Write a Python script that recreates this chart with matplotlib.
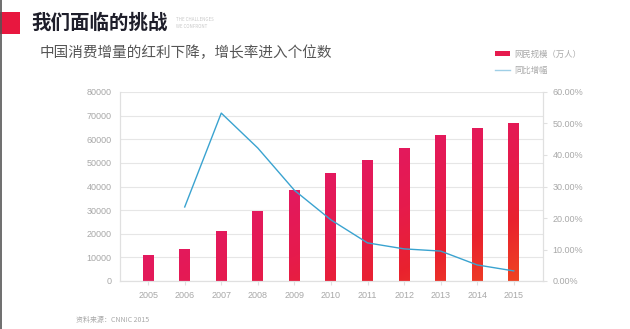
import matplotlib
matplotlib.use("Agg")
import matplotlib.pyplot as plt
import numpy as np
from matplotlib.colors import LinearSegmentedColormap
from matplotlib.patches import Rectangle

plt.rcParams['font.family'] = ['Noto Sans CJK SC', 'DejaVu Sans']

years = ['2005', '2006', '2007', '2008', '2009', '2010', '2011', '2012', '2013', '2014', '2015']
users = [11100, 13700, 21000, 29800, 38400, 45700, 51300, 56400, 61800, 64900, 66800]
growth_years = ['2006', '2007', '2008', '2009', '2010', '2011', '2012', '2013', '2014', '2015']
growth = [23.5, 53.3, 42.2, 28.8, 19.4, 12.1, 10.2, 9.5, 5.1, 3.2]
left_ticks = [0, 10000, 20000, 30000, 40000, 50000, 60000, 70000, 80000]
right_ticks = [0, 10, 20, 30, 40, 50, 60]

W, H = 630, 329
fig = plt.figure(figsize=(W / 100, H / 100), dpi=100)

ax = fig.add_axes([120 / W, 1 - 281 / H, (543 - 120) / W, (281 - 92) / H])
ax2 = ax.twinx()

x = np.arange(len(years))
x0, x1 = -0.77, len(years) - 1 + 0.8
ax.set_xlim(x0, x1)
ax.set_ylim(0, 80000)
ax2.set_ylim(0, 60)

cmap = LinearSegmentedColormap.from_list('g', ['#E3195E', '#E61B4C', '#E9222E', '#EF4522'])
gx_, gy_ = np.meshgrid(np.linspace(0, 1, 300), np.linspace(0, 1, 300))
grad = np.clip(gx_ - gy_ + 0.05, 0, 1)
bw = 0.3
for xi, v in zip(x, users):
    rect = Rectangle((xi - bw / 2, 0), bw, v, facecolor='none', edgecolor='none')
    ax.add_patch(rect)
    im = ax.imshow(grad, cmap=cmap, vmin=0, vmax=1, aspect='auto', origin='lower',
                   extent=[x0, x1, 0, 80000], zorder=2, interpolation='bilinear')
    im.set_clip_path(rect)
ax.set_xlim(x0, x1)
ax.set_ylim(0, 80000)

gx = [years.index(y) for y in growth_years]
ax2.plot(gx, growth, color='#3AA3D0', lw=1.0, zorder=3)

ax.set_yticks(left_ticks)
ax.set_yticklabels([str(t) for t in left_ticks])
ax2.set_yticks(right_ticks)
ax2.set_yticklabels([f'{t:.2f}%' for t in right_ticks])
ax.set_xticks(x)
ax.set_xticklabels(years)

ax.grid(axis='y', color='#E6E6E6', lw=0.8)
ax.set_axisbelow(True)
for a in (ax, ax2):
    for s in a.spines.values():
        s.set_color('#E0E0E0')
        s.set_linewidth(0.8)
    a.spines['top'].set_visible(False)
ax.tick_params(axis='both', colors='#E0E0E0', labelcolor='#A8A8A8', labelsize=6.5, length=3, width=0.8)
ax.tick_params(axis='y', length=0, pad=6)
ax2.tick_params(axis='y', colors='#E0E0E0', labelcolor='#A8A8A8', labelsize=6.5, length=3, width=0.8, pad=4)
ax.tick_params(axis='x', pad=4)
for lab in ax.get_xticklabels() + ax.get_yticklabels() + ax2.get_yticklabels():
    lab.set_family(['Liberation Sans', 'DejaVu Sans'])

# Header
fig.patches.append(Rectangle((0, 1 - 34 / H), 20 / W, 22 / H, transform=fig.transFigure,
                             facecolor='#E8173F', edgecolor='none'))
fig.add_artist(plt.Line2D([0.5 / W, 0.5 / W], [0, 1], transform=fig.transFigure, color='#555555', lw=1.2))
fig.text(31 / W, 1 - 23 / H, '我们面临的挑战', fontsize=14, fontweight='bold', color='#1E1E2A',
         va='center', ha='left')
fig.text(176 / W, 1 - 19.5 / H, 'THE CHALLENGES', fontsize=3.2, color='#C8C8C8', va='center', ha='left')
fig.text(176 / W, 1 - 26.5 / H, 'WE CONFRONT', fontsize=3.2, color='#C8C8C8', va='center', ha='left')
fig.text(40 / W, 1 - 53 / H, '中国消费增量的红利下降，增长率进入个位数', fontsize=10.5, color='#555555',
         va='center', ha='left')

# Legend
fig.patches.append(Rectangle((495 / W, 1 - 56 / H), 15 / W, 5 / H, transform=fig.transFigure,
                             facecolor='#E61B4E', edgecolor='none'))
fig.text(514 / W, 1 - 54 / H, '网民规模（万人）', fontsize=6, color='#A8A8A8', va='center', ha='left')
fig.add_artist(plt.Line2D([495 / W, 510 / W], [1 - 70 / H, 1 - 70 / H], transform=fig.transFigure,
                          color='#9FCFE6', lw=1))
fig.text(514 / W, 1 - 70 / H, '同比增幅', fontsize=6, color='#A8A8A8', va='center', ha='left')

fig.text(76 / W, 1 - 320 / H, '资料来源：CNNIC 2015', fontsize=5, color='#A8A8A8', va='center', ha='left')

fig.savefig('out.png', dpi=100)
